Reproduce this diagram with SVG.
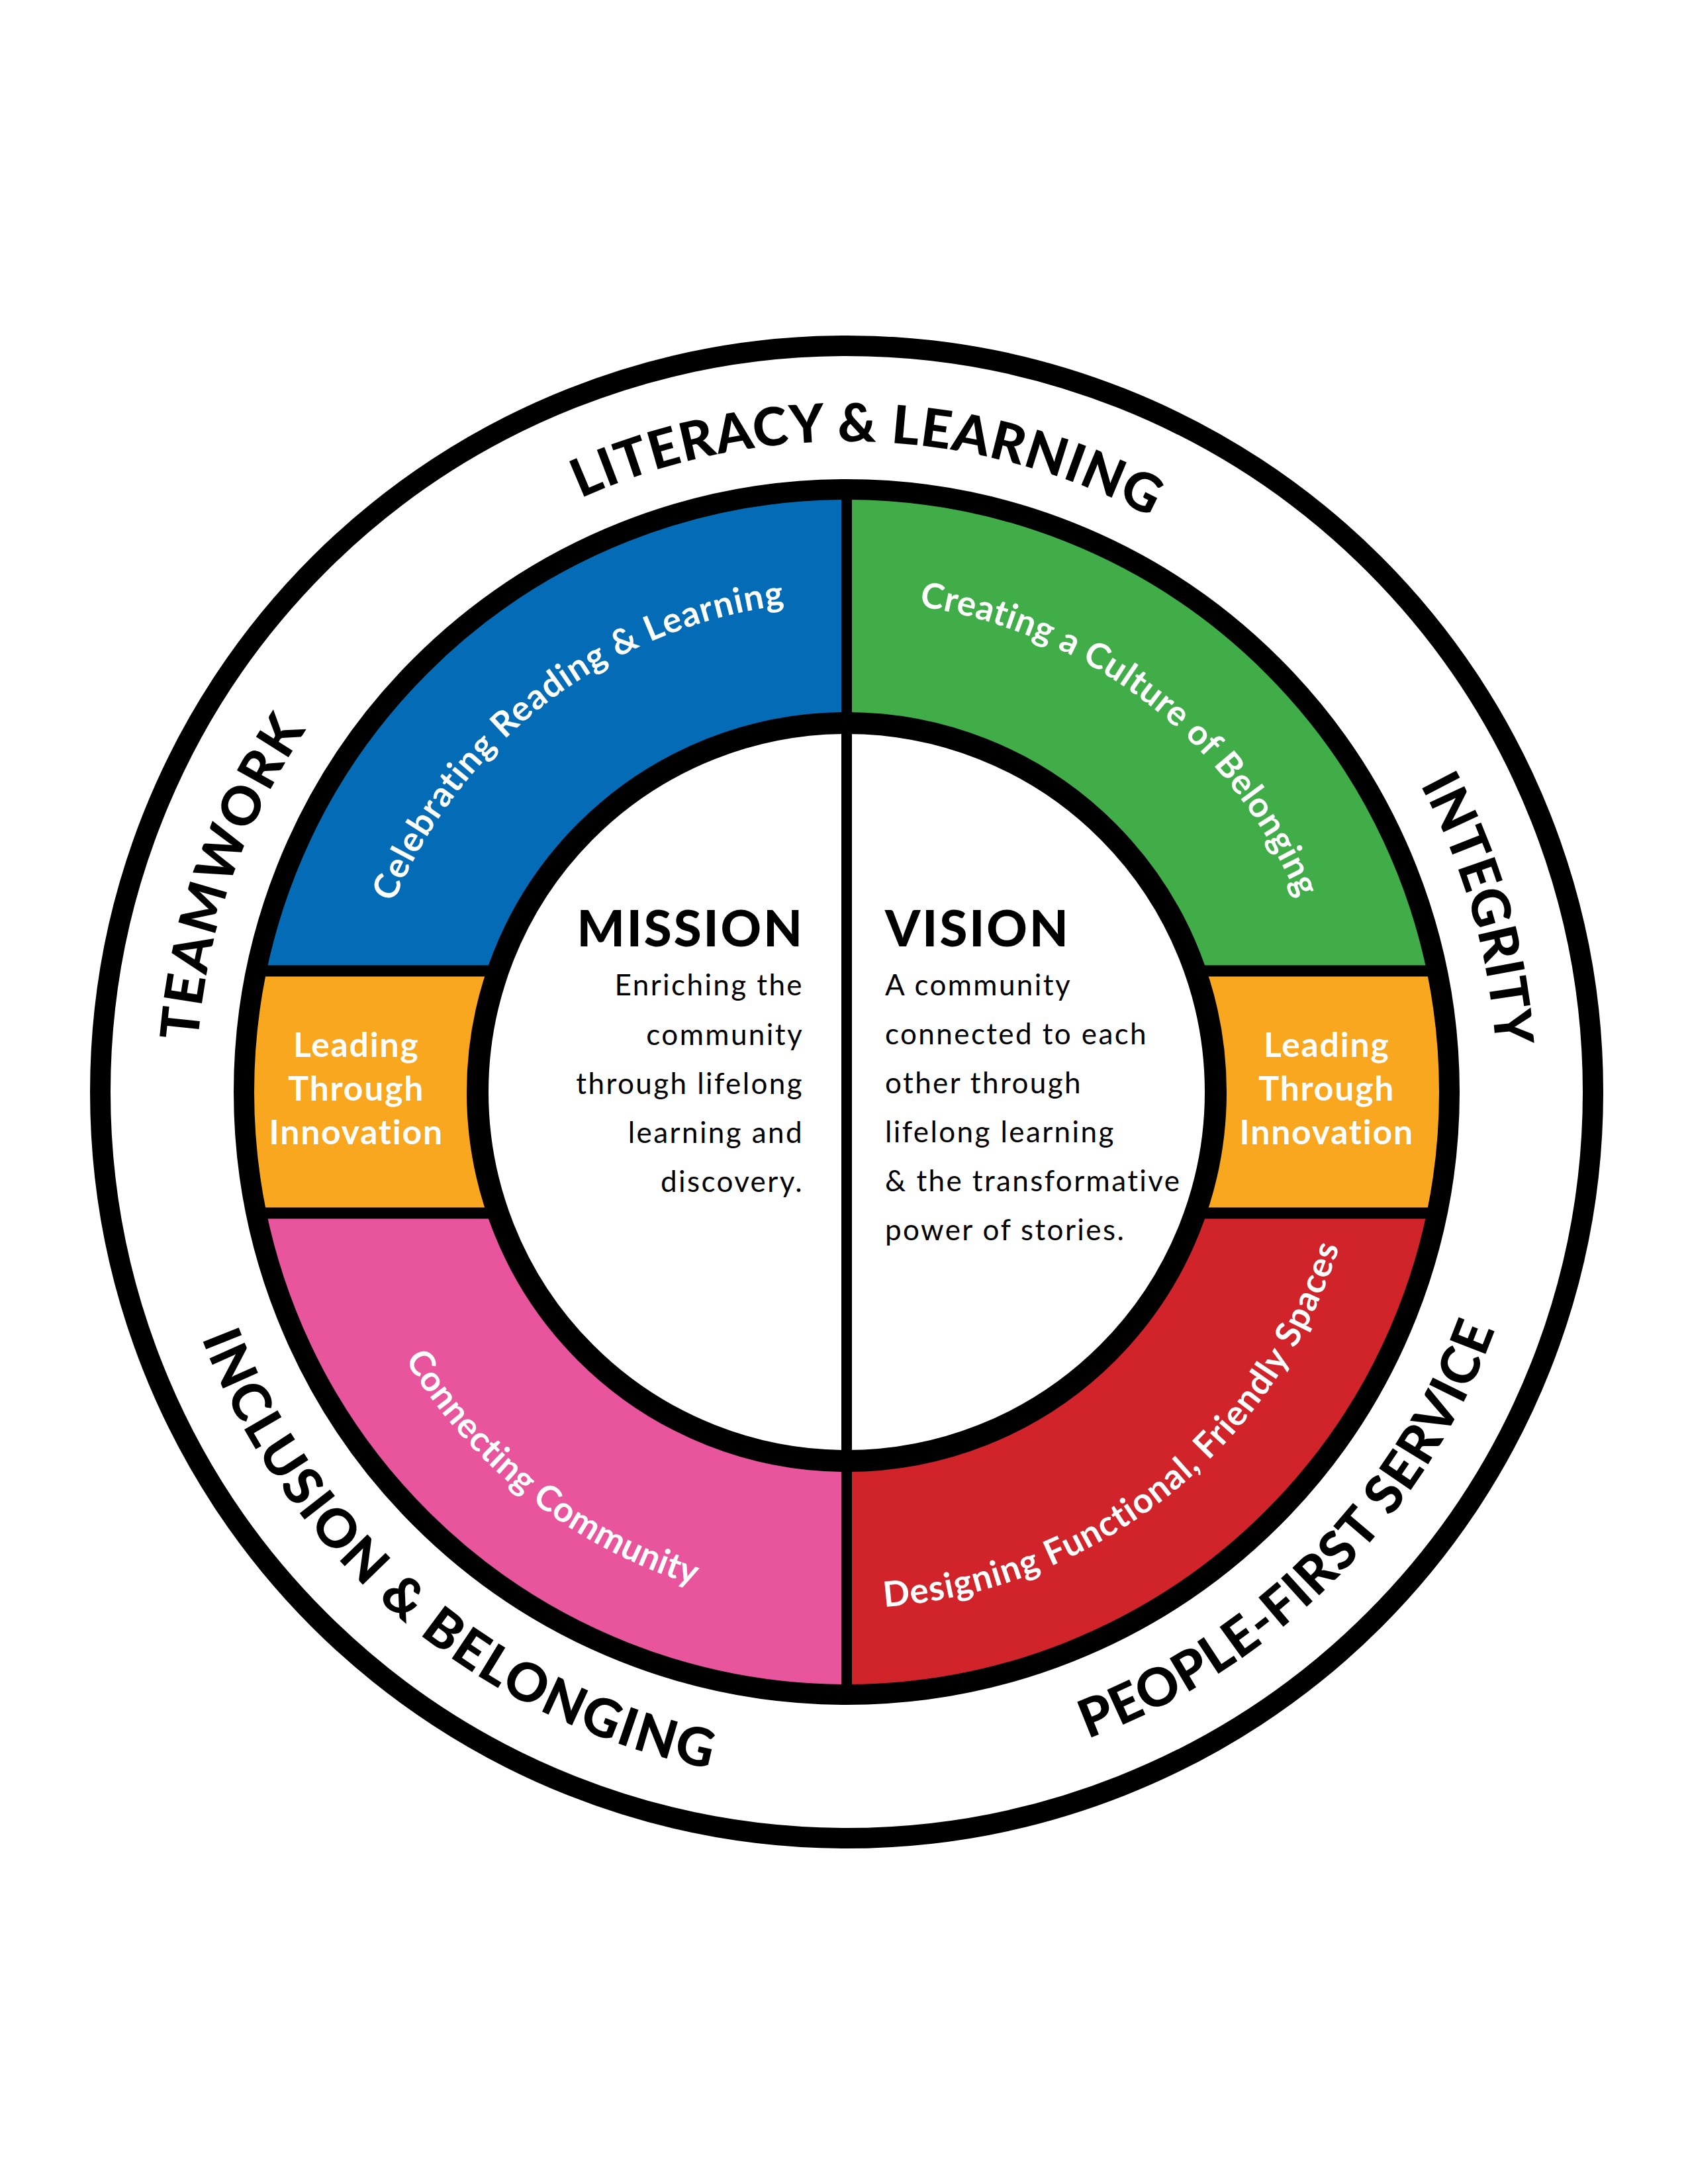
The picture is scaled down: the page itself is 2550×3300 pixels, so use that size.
<svg xmlns="http://www.w3.org/2000/svg" width="2550" height="3300" viewBox="0 0 2550 3300">
  <style>
    .ring { fill: none; stroke: #000; }
    .div { stroke: #000; fill: none; }
    .outer { font-family: Lato, "Liberation Sans", sans-serif; font-weight: 900; font-size: 80px; fill: #000; }
    .seg { font-family: Lato, "Liberation Sans", sans-serif; font-weight: 700; font-size: 53px; fill: #fff; }
    .lead { font-family: Lato, "Liberation Sans", sans-serif; font-weight: 700; font-size: 52px; fill: #fff; text-anchor: middle; letter-spacing: 1.6px; }
    .head { font-family: Lato, "Liberation Sans", sans-serif; font-weight: 900; font-size: 76px; fill: #000; letter-spacing: 3px; }
    .body { font-family: Lato, "Liberation Sans", sans-serif; font-weight: 400; font-size: 44px; fill: #000; letter-spacing: 2.4px; }
    .end { text-anchor: end; }
  </style>
  <defs>
    <clipPath id="ringClip"><circle cx="1279" cy="1650" r="911"/></clipPath>
    <path id="pLiteracy" d="M 672.5 876.5 A 983 983 0 0 1 1935.5 918.3"/>
    <path id="pTeamwork" d="M 313.3 1833.3 A 983 983 0 0 1 637.3 905.3"/>
    <path id="pIntegrity" d="M 1960.6 941.7 A 983 983 0 0 1 2233.2 1886.1"/>
    <path id="pPeople" d="M 1373.5 2688.7 A 1043 1043 0 0 0 2318.3 1737.3"/>
    <path id="pInclusion" d="M 251.2 1827.5 A 1043 1043 0 0 0 1275.4 2693"/>
    <path id="pCelebrating" d="M 555.3 1486.2 A 742 742 0 0 1 1314.6 908.9"/>
    <path id="pCreating" d="M 1248.6 908.6 A 742 742 0 0 1 2003.9 1491.3"/>
    <path id="pDesigning" d="M 1189.4 2424.9 A 780 780 0 0 0 2053.9 1739.6"/>
    <path id="pConnecting" d="M 516.1 1812.2 A 780 780 0 0 0 1306.2 2429.5"/>
  </defs>

  <rect x="0" y="0" width="2550" height="3300" fill="#fff"/>

  <g id="values-ring">
    <circle class="ring" cx="1279" cy="1650" r="1127.5" stroke-width="31" fill="#fff"/>
    <text class="outer" letter-spacing="1.4"><textPath href="#pLiteracy" startOffset="50%" text-anchor="middle">LITERACY &amp; LEARNING</textPath></text>
    <text class="outer" letter-spacing="3"><textPath href="#pTeamwork" startOffset="50%" text-anchor="middle">TEAMWORK</textPath></text>
    <text class="outer" letter-spacing="0"><textPath href="#pIntegrity" startOffset="50%" text-anchor="middle">INTEGRITY</textPath></text>
    <text class="outer" letter-spacing="1.2"><textPath href="#pPeople" startOffset="50%" text-anchor="middle">PEOPLE-FIRST SERVICE</textPath></text>
    <text class="outer" letter-spacing="2.6"><textPath href="#pInclusion" startOffset="50%" text-anchor="middle">INCLUSION &amp; BELONGING</textPath></text>
  </g>

  <g clip-path="url(#ringClip)">
    <g id="seg-blue"><rect x="0" y="0" width="1279" height="1467" fill="#046CB6"/></g>
    <g id="seg-green"><rect x="1279" y="0" width="1271" height="1467" fill="#41AD49"/></g>
    <g id="seg-orange-left"><rect x="0" y="1467" width="1279" height="366" fill="#F9A71E"/></g>
    <g id="seg-orange-right"><rect x="1279" y="1467" width="1271" height="366" fill="#F9A71E"/></g>
    <g id="seg-pink"><rect x="0" y="1833" width="1279" height="1467" fill="#E8559C"/></g>
    <g id="seg-red"><rect x="1279" y="1833" width="1271" height="1467" fill="#D1232A"/></g>
    <g id="connectors">
      <line class="div" x1="300" y1="1467" x2="2260" y2="1467" stroke-width="17"/>
      <line class="div" x1="300" y1="1833" x2="2260" y2="1833" stroke-width="17"/>
    </g>
  </g>

  <g id="core">
    <circle cx="1279" cy="1650" r="557.5" fill="#fff" stroke="#000" stroke-width="33"/>
    <line class="div" x1="1279" y1="735" x2="1279" y2="2565" stroke-width="16"/>
    <circle class="ring" cx="1279" cy="1650" r="910.5" stroke-width="31"/>
  </g>

  <g id="segment-labels">
    <text class="seg" letter-spacing="1.3"><textPath href="#pCelebrating" startOffset="50%" text-anchor="middle">Celebrating Reading &amp; Learning</textPath></text>
    <text class="seg" letter-spacing="0.6"><textPath href="#pCreating" startOffset="50%" text-anchor="middle">Creating a Culture of Belonging</textPath></text>
    <text class="seg" letter-spacing="1.3"><textPath href="#pDesigning" startOffset="50%" text-anchor="middle">Designing Functional, Friendly Spaces</textPath></text>
    <text class="seg" letter-spacing="0.5"><textPath href="#pConnecting" startOffset="50%" text-anchor="middle">Connecting Community</textPath></text>
  </g>

  <g id="leading-left">
    <text class="lead" x="538" y="1597">Leading</text>
    <text class="lead" x="538" y="1663">Through</text>
    <text class="lead" x="538" y="1729">Innovation</text>
  </g>
  <g id="leading-right">
    <text class="lead" x="2004" y="1597">Leading</text>
    <text class="lead" x="2004" y="1663">Through</text>
    <text class="lead" x="2004" y="1729">Innovation</text>
  </g>

  <g id="mission">
    <text class="head end" x="1215" y="1430">MISSION</text>
    <text class="body end" x="1214" y="1504">Enriching the</text>
    <text class="body end" x="1214" y="1579">community</text>
    <text class="body end" x="1214" y="1653">through lifelong</text>
    <text class="body end" x="1214" y="1727">learning and</text>
    <text class="body end" x="1214" y="1801">discovery.</text>
  </g>

  <g id="vision">
    <text class="head" x="1337" y="1430">VISION</text>
    <text class="body" x="1337" y="1504">A community</text>
    <text class="body" x="1337" y="1578">connected to each</text>
    <text class="body" x="1337" y="1652">other through</text>
    <text class="body" x="1337" y="1726">lifelong learning</text>
    <text class="body" x="1337" y="1800">&amp; the transformative</text>
    <text class="body" x="1337" y="1874">power of stories.</text>
  </g>
</svg>
